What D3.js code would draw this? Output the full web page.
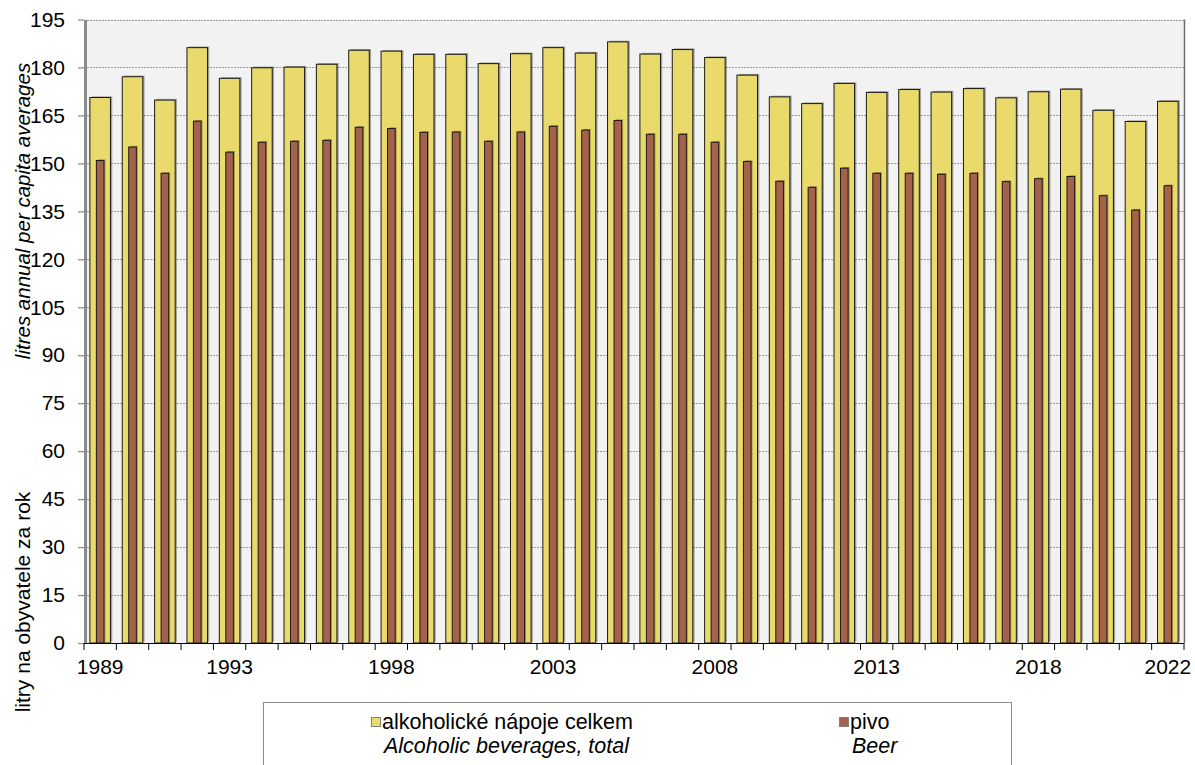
<!DOCTYPE html>
<html>
<head>
<meta charset="utf-8">
<script src="https://cdn.jsdelivr.net/npm/d3@7"></script>
<style>
  html, body { margin: 0; padding: 0; background: #ffffff; }
  svg { display: block; font-family: "Liberation Sans", Arial, sans-serif; }
</style>
</head>
<body>
<svg id="chart" width="1195" height="765"></svg>
<script>
const years = [1989,1990,1991,1992,1993,1994,1995,1996,1997,1998,1999,2000,2001,2002,2003,2004,2005,2006,2007,2008,2009,2010,2011,2012,2013,2014,2015,2016,2017,2018,2019,2020,2021,2022];
const totalValues = [170.6,177.1,169.8,186.2,176.6,179.9,180.1,181.0,185.4,185.1,184.1,184.1,181.2,184.3,186.2,184.5,188.0,184.2,185.6,183.1,177.6,170.8,168.7,175.0,172.2,173.1,172.3,173.4,170.5,172.4,173.2,166.6,163.1,169.4];
const beerValues = [150.9,155.1,146.9,163.2,153.5,156.6,156.9,157.2,161.3,160.9,159.7,159.8,156.9,159.8,161.6,160.4,163.4,159.1,159.1,156.6,150.6,144.4,142.5,148.5,146.9,146.9,146.6,146.9,144.3,145.2,145.9,139.9,135.4,143.0];
const yTicks = [0,15,30,45,60,75,90,105,120,135,150,165,180,195];
const xLabelYears = [1989,1993,1998,2003,2008,2013,2018,2022];
const seriesNames = ["alkoholické nápoje celkem","pivo"];
const seriesNamesEn = ["Alcoholic beverages, total","Beer"];
const yTitleCz = "litry na obyvatele za rok";
const yTitleEn = "litres annual per capita averages";

(function () {
const svg = d3.select("#chart");
const pL = 84, pR = 1184, pT = 19.5, pB = 643;
const FONT = "Liberation Sans, Arial, sans-serif";

const x = d3.scaleBand().domain(years).range([pL, pR]).padding(0);
const y = d3.scaleLinear().domain([0, 195]).range([pB, pT]);

const yellow = "#e9da6b", brown = "#a5614b";

// plot background
svg.append("rect").attr("x", pL).attr("y", pT).attr("width", pR - pL).attr("height", pB - pT).attr("fill", "#f2f2f2");

// gridlines
svg.append("g").selectAll("line").data(yTicks.filter(d => d > 0)).join("line")
  .attr("x1", pL).attr("x2", pR)
  .attr("y1", d => Math.round(y(d)) + 0.5).attr("y2", d => Math.round(y(d)) + 0.5)
  .attr("stroke", "#9a9a9a").attr("stroke-width", 1).attr("stroke-dasharray", "2,1");

const totalW = x.bandwidth() * 0.635;
const beerW = x.bandwidth() * 0.235;

const data = years.map((yr, i) => ({ year: yr, total: totalValues[i], beer: beerValues[i] }));

// total shadows
svg.append("g").attr("fill", "rgba(0,0,0,0.33)").selectAll("rect").data(data).join("rect")
  .attr("x", d => x(d.year) + (x.bandwidth() - totalW) / 2 + 1.8)
  .attr("y", d => y(d.total) - 1.2)
  .attr("width", totalW).attr("height", d => pB - y(d.total));

// total bars
svg.append("g").selectAll("rect").data(data).join("rect")
  .attr("x", d => x(d.year) + (x.bandwidth() - totalW) / 2)
  .attr("y", d => y(d.total))
  .attr("width", totalW).attr("height", d => pB - y(d.total))
  .attr("fill", yellow).attr("stroke", "#1a1a1a").attr("stroke-width", 1);

// beer shadows
svg.append("g").attr("fill", "rgba(0,0,0,0.3)").selectAll("rect").data(data).join("rect")
  .attr("x", d => x(d.year) + (x.bandwidth() - beerW) / 2 + 1.5)
  .attr("y", d => y(d.beer) - 1.2)
  .attr("width", beerW).attr("height", d => pB - y(d.beer));

// beer bars
svg.append("g").selectAll("rect").data(data).join("rect")
  .attr("x", d => x(d.year) + (x.bandwidth() - beerW) / 2)
  .attr("y", d => y(d.beer))
  .attr("width", beerW).attr("height", d => pB - y(d.beer))
  .attr("fill", brown).attr("stroke", "#1a1a1a").attr("stroke-width", 1);

// right border
svg.append("line").attr("x1", pR + 0.5).attr("x2", pR + 0.5).attr("y1", pT).attr("y2", pB)
  .attr("stroke", "#6e6e6e").attr("stroke-width", 1.5);

// y axis
const yAxis = svg.append("g").attr("transform", `translate(${pL},0)`)
  .call(d3.axisLeft(y).tickValues(yTicks).tickSize(6).tickPadding(13).tickSizeOuter(0));
yAxis.select(".domain").attr("stroke", "#8a8a8a").attr("stroke-width", 3).attr("transform", "translate(1,0)");
yAxis.selectAll(".tick line").attr("stroke", "#8a8a8a").attr("stroke-width", 1.2);
yAxis.selectAll(".tick text").attr("font-size", 21).attr("fill", "#000").attr("font-family", FONT);

// x axis boundary ticks
const bounds = years.map(d => x(d)).concat([x.range()[1]]);
svg.append("g").selectAll("line").data(bounds).join("line")
  .attr("x1", d => d).attr("x2", d => d).attr("y1", pB).attr("y2", pB + 7)
  .attr("stroke", "#000").attr("stroke-width", 1);
svg.append("line").attr("x1", pL).attr("x2", pR).attr("y1", pB + 0.5).attr("y2", pB + 0.5)
  .attr("stroke", "#000").attr("stroke-width", 1);

const xAxis = svg.append("g").attr("transform", `translate(0,${pB})`)
  .call(d3.axisBottom(x).tickValues(xLabelYears).tickSize(0).tickPadding(16));
xAxis.select(".domain").remove();
xAxis.selectAll(".tick text").attr("font-size", 21).attr("fill", "#000").attr("font-family", FONT);

// y titles
svg.append("text").attr("transform", "translate(30,602) rotate(-90)")
  .attr("text-anchor", "middle").attr("font-size", 21).attr("fill", "#000").attr("font-family", FONT)
  .text(yTitleCz);
svg.append("text").attr("transform", "translate(30,211) rotate(-90)")
  .attr("text-anchor", "middle").attr("font-size", 20.5).attr("font-style", "italic").attr("fill", "#000").attr("font-family", FONT)
  .text(yTitleEn);

// legend
svg.append("rect").attr("x", 263.5).attr("y", 702.5).attr("width", 748).attr("height", 90)
  .attr("fill", "#fff").attr("stroke", "#8a8a8a").attr("stroke-width", 1);
const legX = [371, 839];
const legColors = [yellow, brown];
const lg = svg.append("g").selectAll("g").data(seriesNames).join("g");
lg.append("rect").attr("x", (d, i) => legX[i] + 0.5).attr("y", 717.5).attr("width", 9).attr("height", 9)
  .attr("fill", (d, i) => legColors[i]).attr("stroke", "#808080").attr("stroke-width", 1);
lg.append("text").attr("x", (d, i) => legX[i] + 11).attr("y", 729).attr("font-size", 21.5).attr("fill", "#000").attr("font-family", FONT).text(d => d);
lg.append("text").attr("x", (d, i) => legX[i] + 13).attr("y", 753).attr("font-size", 21.5).attr("font-style", "italic").attr("fill", "#000").attr("font-family", FONT)
  .text((d, i) => seriesNamesEn[i]);
})();
</script>
</body>
</html>
